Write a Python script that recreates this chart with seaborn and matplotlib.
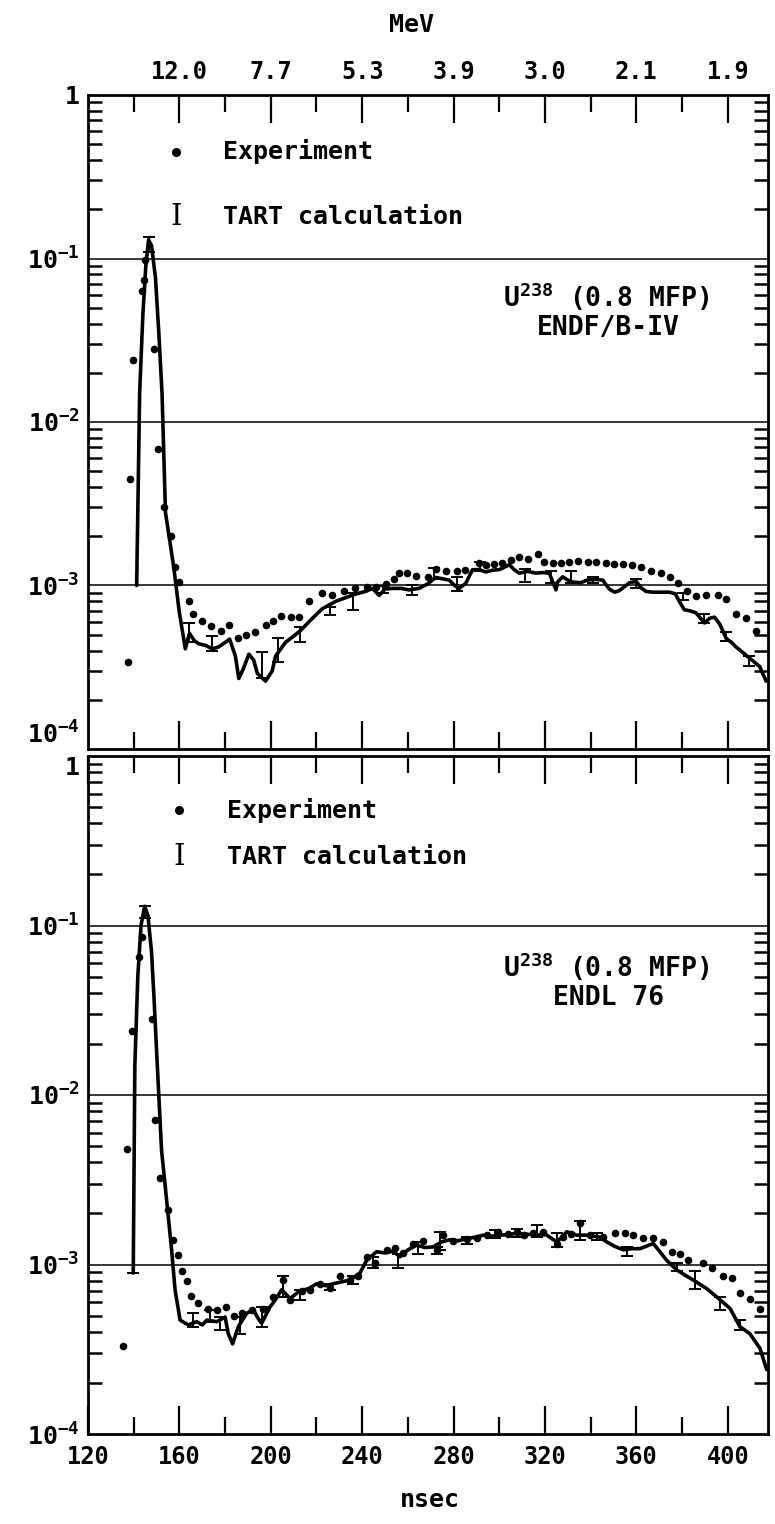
import numpy as np
import matplotlib
matplotlib.use("Agg")
import matplotlib.pyplot as plt
import matplotlib.ticker as mticker
import seaborn as sns

# ---- data (time in nsec, value per decade scale) ----
# upper panel: ENDF/B-IV
exp1_t = [137.5, 138.5, 139.7, 143.7, 144.4, 144.8, 148.8, 150.7, 153.2, 156.5, 158.0, 160.0,
          164.4, 166.0, 170.0, 173.9, 178.0, 181.9, 185.6, 189.2, 193.3, 197.7, 201.0, 204.6,
          208.7, 212.3, 216.7, 222.5, 227.0, 232.0, 237.0, 242.3, 246.0, 250.3, 254.0, 256.1,
          259.6, 263.5, 268.6, 272.2, 276.6, 281.4, 285.0, 291.2, 294.1, 297.8, 301.0, 305.0,
          308.7, 312.5, 316.8, 319.7, 323.3, 327.0, 330.6, 334.3, 338.7, 342.3, 346.7, 350.4,
          354.0, 358.1, 362.0, 366.4, 370.8, 374.5, 378.1, 382.2, 385.9, 390.5, 395.6, 399.3,
          403.4, 408.0, 412.2]
exp1_v = [3.4e-4, 4.5e-3, 2.4e-2, 6.3e-2, 7.4e-2, 9.8e-2, 2.8e-2, 6.8e-3, 3.0e-3, 2.0e-3, 1.3e-3, 1.05e-3,
          8.0e-4, 6.7e-4, 6.1e-4, 5.65e-4, 5.3e-4, 5.7e-4, 4.8e-4, 5.0e-4, 5.2e-4, 5.7e-4, 6.1e-4, 6.5e-4,
          6.4e-4, 6.4e-4, 8.0e-4, 9.0e-4, 8.8e-4, 9.2e-4, 9.6e-4, 9.75e-4, 9.8e-4, 1.02e-3, 1.09e-3, 1.19e-3,
          1.19e-3, 1.15e-3, 1.13e-3, 1.26e-3, 1.23e-3, 1.23e-3, 1.25e-3, 1.38e-3, 1.33e-3, 1.35e-3, 1.37e-3, 1.43e-3,
          1.50e-3, 1.45e-3, 1.56e-3, 1.40e-3, 1.37e-3, 1.38e-3, 1.39e-3, 1.41e-3, 1.40e-3, 1.40e-3, 1.38e-3, 1.35e-3,
          1.35e-3, 1.33e-3, 1.29e-3, 1.23e-3, 1.20e-3, 1.13e-3, 1.04e-3, 9.3e-4, 8.6e-4, 8.7e-4, 8.7e-4, 8.3e-4,
          6.7e-4, 6.3e-4, 5.3e-4]

calc1_t = [141.3, 142.6, 144.0, 145.3, 146.5, 147.8, 149.5, 151.0, 152.4, 153.9, 157.5, 160.0, 162.6,
           164.4, 166.5, 168.5, 171.5, 174.3, 177.0, 180.2, 182.0, 184.5, 186.0, 188.0, 190.4, 192.5,
           194.1, 197.7, 200.6, 202.1, 206.5, 210.0, 213.0, 218.2, 222.5, 228.4, 233.5, 237.5, 241.5,
           244.5, 247.4, 250.0, 253.2, 257.0, 260.5, 264.9, 268.5, 272.2, 275.0, 278.0, 280.5, 282.4,
           285.3, 288.3, 291.2, 294.1, 297.0, 300.0, 304.4, 306.5, 308.7, 312.5, 316.0, 319.0, 321.9,
           324.8, 325.5, 327.7, 330.0, 332.0, 335.7, 338.5, 341.6, 345.2, 348.2, 350.5, 352.5, 357.0,
           359.9, 362.0, 364.2, 367.0, 370.0, 374.5, 377.0, 378.8, 381.0, 383.5, 386.1, 389.8, 392.0,
           394.2, 396.5, 399.3, 401.5, 403.7, 406.5, 409.5, 413.9, 416.8]
calc1_v = [1.0e-3, 1.5e-2, 4.5e-2, 9.0e-2, 1.3e-1, 1.2e-1, 7.7e-2, 3.5e-2, 1.5e-2, 2.8e-3, 1.3e-3, 6.8e-4, 4.1e-4,
           5.1e-4, 4.6e-4, 4.4e-4, 4.3e-4, 4.1e-4, 4.2e-4, 4.5e-4, 4.7e-4, 3.7e-4, 2.7e-4, 3.1e-4, 3.8e-4, 3.5e-4,
           2.9e-4, 2.6e-4, 3.0e-4, 3.7e-4, 4.5e-4, 4.9e-4, 5.3e-4, 6.3e-4, 7.2e-4, 8.0e-4, 8.5e-4, 8.9e-4, 9.2e-4,
           9.6e-4, 8.7e-4, 9.5e-4, 9.6e-4, 9.6e-4, 9.4e-4, 9.6e-4, 1.02e-3, 1.12e-3, 1.10e-3, 1.08e-3, 1.0e-3, 9.6e-4,
           1.03e-3, 1.25e-3, 1.25e-3, 1.21e-3, 1.24e-3, 1.25e-3, 1.34e-3, 1.25e-3, 1.19e-3, 1.22e-3, 1.19e-3, 1.20e-3, 1.19e-3,
           9.4e-4, 1.05e-3, 1.13e-3, 1.08e-3, 1.05e-3, 1.04e-3, 1.08e-3, 1.09e-3, 1.08e-3, 9.5e-4, 9.1e-4, 9.3e-4, 1.04e-3,
           1.06e-3, 9.7e-4, 9.2e-4, 9.1e-4, 9.1e-4, 9.1e-4, 8.9e-4, 8.0e-4, 7.1e-4, 7.0e-4, 6.8e-4, 5.9e-4, 6.3e-4,
           6.4e-4, 5.8e-4, 4.75e-4, 4.5e-4, 4.2e-4, 3.9e-4, 3.6e-4, 3.2e-4, 2.6e-4]

err1_t = [146.5, 164.4, 174.3, 196.0, 203.0, 213.0, 226.0, 236.0, 249.0, 262.0, 271.5, 281.7,
          291.6, 311.4, 322.6, 331.3, 340.9, 359.8, 380.3, 389.8, 399.3, 409.5]
err1_lo = [1.1e-1, 4.5e-4, 4.0e-4, 2.7e-4, 3.4e-4, 4.5e-4, 6.6e-4, 7.1e-4, 9.0e-4, 8.8e-4, 1.09e-3, 9.2e-4,
           1.22e-3, 1.05e-3, 1.03e-3, 1.03e-3, 1.03e-3, 9.6e-4, 8.2e-4, 5.9e-4, 4.6e-4, 3.2e-4]
err1_hi = [1.35e-1, 5.9e-4, 4.9e-4, 3.9e-4, 4.75e-4, 5.6e-4, 7.4e-4, 9.0e-4, 9.9e-4, 1.0e-3, 1.28e-3, 1.13e-3,
           1.39e-3, 1.27e-3, 1.22e-3, 1.22e-3, 1.13e-3, 1.1e-3, 9.0e-4, 6.7e-4, 5.2e-4, 3.7e-4]

# lower panel: ENDL 76
exp2_t = [135.5, 136.9, 139.2, 142.5, 143.8, 148.0, 149.3, 151.5, 155.1, 157.1, 159.5, 161.0,
          163.2, 164.9, 168.3, 172.4, 176.3, 180.4, 184.0, 187.3, 191.7, 196.7, 201.1, 205.5,
          208.4, 213.5, 217.2, 221.5, 225.9, 230.3, 234.7, 238.3, 242.0, 245.6, 250.7, 254.4,
          258.0, 262.4, 266.8, 272.6, 275.5, 279.9, 285.7, 290.1, 294.5, 299.6, 304.0, 307.6,
          311.0, 314.9, 319.3, 325.1, 328.0, 331.5, 335.3, 339.7, 345.5, 350.6, 355.0, 358.6,
          363.0, 367.4, 371.8, 375.4, 379.1, 382.7, 389.3, 392.9, 397.8, 401.7, 405.3, 409.7, 414.1]
exp2_v = [3.3e-4, 4.8e-3, 2.4e-2, 6.5e-2, 8.5e-2, 2.8e-2, 7.1e-3, 3.25e-3, 2.1e-3, 1.4e-3, 1.14e-3, 9.2e-4,
          8.0e-4, 6.5e-4, 5.9e-4, 5.5e-4, 5.4e-4, 5.6e-4, 5.0e-4, 5.2e-4, 5.4e-4, 5.5e-4, 6.45e-4, 8.1e-4,
          6.2e-4, 7.0e-4, 7.1e-4, 7.7e-4, 7.3e-4, 8.5e-4, 8.1e-4, 8.5e-4, 1.11e-3, 1.02e-3, 1.22e-3, 1.25e-3,
          1.17e-3, 1.33e-3, 1.38e-3, 1.22e-3, 1.5e-3, 1.38e-3, 1.41e-3, 1.44e-3, 1.5e-3, 1.56e-3, 1.52e-3, 1.56e-3,
          1.50e-3, 1.53e-3, 1.56e-3, 1.33e-3, 1.45e-3, 1.52e-3, 1.75e-3, 1.49e-3, 1.45e-3, 1.53e-3, 1.53e-3, 1.49e-3,
          1.43e-3, 1.43e-3, 1.36e-3, 1.19e-3, 1.16e-3, 1.06e-3, 1.02e-3, 9.5e-4, 8.5e-4, 8.3e-4, 6.8e-4, 6.3e-4, 5.5e-4]

calc2_t = [139.8, 140.5, 141.8, 143.2, 144.8, 146.2, 147.8, 149.0, 150.0, 152.2, 154.4, 156.6, 158.1,
           160.3, 163.9, 167.6, 170.0, 172.0, 176.4, 180.0, 181.4, 183.3, 185.8, 189.4, 192.4, 194.5,
           196.0, 199.6, 202.0, 204.8, 208.4, 212.8, 216.5, 220.1, 224.0, 227.4, 231.0, 234.7, 239.0,
           242.0, 246.3, 250.0, 253.6, 256.5, 260.0, 263.8, 267.5, 271.1, 274.8, 278.4, 282.0, 285.7,
           289.5, 293.0, 296.5, 300.3, 304.0, 307.6, 312.0, 316.3, 320.5, 323.0, 325.1, 327.5, 329.5,
           333.9, 338.3, 344.1, 347.0, 350.5, 354.3, 358.0, 361.6, 367.4, 370.5, 373.2, 377.6, 381.0,
           384.9, 390.8, 396.6, 401.0, 405.3, 409.7, 414.1, 417.0]
calc2_v = [8.9e-4, 1.5e-2, 5.0e-2, 1.0e-1, 1.3e-1, 1.15e-1, 7.0e-2, 3.5e-2, 1.84e-2, 4.7e-3, 2.4e-3, 1.22e-3, 7.1e-4,
           4.7e-4, 4.4e-4, 4.6e-4, 4.4e-4, 4.7e-4, 4.6e-4, 4.9e-4, 3.9e-4, 3.4e-4, 4.3e-4, 5.15e-4, 5.4e-4, 4.8e-4,
           4.5e-4, 5.6e-4, 6.2e-4, 7.1e-4, 6.3e-4, 7.0e-4, 7.2e-4, 7.7e-4, 7.5e-4, 7.7e-4, 7.9e-4, 8.1e-4, 8.9e-4,
           1.06e-3, 1.19e-3, 1.17e-3, 1.2e-3, 1.11e-3, 1.22e-3, 1.30e-3, 1.26e-3, 1.27e-3, 1.36e-3, 1.40e-3, 1.38e-3, 1.42e-3,
           1.45e-3, 1.49e-3, 1.47e-3, 1.49e-3, 1.50e-3, 1.53e-3, 1.51e-3, 1.49e-3, 1.50e-3, 1.42e-3, 1.36e-3, 1.45e-3, 1.56e-3,
           1.49e-3, 1.49e-3, 1.45e-3, 1.36e-3, 1.28e-3, 1.22e-3, 1.24e-3, 1.24e-3, 1.33e-3, 1.18e-3, 1.06e-3, 9.3e-4, 8.7e-4,
           8.1e-4, 7.2e-4, 6.2e-4, 5.5e-4, 4.3e-4, 3.9e-4, 3.2e-4, 2.4e-4]

err2_t = [139.8, 144.8, 166.1, 173.4, 177.8, 186.5, 196.0, 205.5, 212.8, 225.9, 236.1, 244.9, 255.8,
          264.6, 272.6, 274.0, 285.7, 298.1, 307.6, 316.4, 325.1, 335.3, 342.6, 355.7, 377.6, 385.6,
          396.6, 405.3]
err2_lo = [8.9e-4, 1.1e-1, 4.3e-4, 4.6e-4, 4.1e-4, 3.9e-4, 4.3e-4, 6.45e-4, 6.2e-4, 7.1e-4, 7.7e-4, 9.6e-4, 9.6e-4,
           1.16e-3, 1.16e-3, 1.22e-3, 1.33e-3, 1.43e-3, 1.46e-3, 1.46e-3, 1.27e-3, 1.40e-3, 1.40e-3, 1.13e-3, 9.1e-4, 7.2e-4,
           5.4e-4, 4.1e-4]
err2_hi = [8.9e-4, 1.3e-1, 5.15e-4, 5.4e-4, 4.9e-4, 4.9e-4, 5.6e-4, 8.5e-4, 7.1e-4, 7.7e-4, 8.5e-4, 1.11e-3, 1.16e-3,
           1.36e-3, 1.27e-3, 1.56e-3, 1.46e-3, 1.6e-3, 1.63e-3, 1.71e-3, 1.53e-3, 1.80e-3, 1.53e-3, 1.27e-3, 1.02e-3, 9.1e-4,
           6.45e-4, 4.7e-4]

nsec_ticks = [120, 160, 200, 240, 280, 320, 360, 400]
minor_ticks = [140, 180, 220, 260, 300, 340, 380]
mev_ticks = [160, 200, 240, 280, 320, 360, 400]
mev_labels = ["12.0", "7.7", "5.3", "3.9", "3.0", "2.1", "1.9"]
decades = [1e-4, 1e-3, 1e-2, 1e-1, 1]
decade_labels = [r"$10^{-4}$", r"$10^{-3}$", r"$10^{-2}$", r"$10^{-1}$", "1"]

sns.set_theme(style="white")
plt.rcParams["font.family"] = ["DejaVu Sans Mono", "DejaVu Sans"]
plt.rcParams["font.weight"] = "bold"
plt.rcParams["text.color"] = "black"
plt.rcParams["xtick.color"] = "black"
plt.rcParams["ytick.color"] = "black"
plt.rcParams["axes.labelcolor"] = "black"
plt.rcParams["mathtext.fontset"] = "custom"
for k in ["rm", "it", "bf", "sf", "tt"]:
    plt.rcParams["mathtext." + k] = "DejaVu Sans Mono:bold"

fig = plt.figure(figsize=(7.75, 15.24), dpi=100)
ax1 = fig.add_axes([88 / 775, 1 - 749 / 1524, 680 / 775, 654 / 1524])
ax2 = fig.add_axes([88 / 775, 1 - 1434 / 1524, 680 / 775, 678 / 1524])


def draw_panel(ax, exp_t, exp_v, calc_t, calc_v, err_t, err_lo, err_hi):
    ax.set_yscale("log")
    for d in [1e-3, 1e-2, 1e-1]:
        ax.axhline(d, color="black", lw=1.1, zorder=1)
    sns.lineplot(x=calc_t, y=calc_v, ax=ax, color="black", lw=2.6,
                 sort=False, estimator=None, zorder=3)
    lo = np.array(err_lo)
    hi = np.array(err_hi)
    ax.errorbar(err_t, lo, yerr=[np.zeros_like(lo), hi - lo], fmt="none",
                ecolor="black", elinewidth=1.4, capsize=4, capthick=1.4, zorder=3)
    sns.scatterplot(x=exp_t, y=exp_v, ax=ax, color="black", s=30,
                    linewidth=0, zorder=4)
    ax.set_xlim(120, 417.6)
    ax.set_ylim(1e-4, 1)
    ax.set_yticks(decades)
    ax.set_yticklabels(decade_labels)
    ax.yaxis.set_minor_locator(mticker.LogLocator(base=10, subs=np.arange(2, 10)))
    ax.yaxis.set_minor_formatter(mticker.NullFormatter())
    ax.tick_params(axis="y", which="major", length=0, pad=6, labelsize=18)
    ax.tick_params(axis="y", which="minor", direction="in", left=True, right=True,
                   length=10, width=1.8, color="black")
    ax.set_xticks(minor_ticks, minor=True)
    ax.tick_params(axis="x", which="both", direction="in", top=True, bottom=True,
                   width=1.6, color="black", labelsize=17, pad=8)
    ax.tick_params(axis="x", which="major", length=20)
    ax.tick_params(axis="x", which="minor", length=12)
    for s in ax.spines.values():
        s.set_linewidth(2.0)
        s.set_color("black")
    ax.set_xlabel("")
    ax.set_ylabel("")


draw_panel(ax1, exp1_t, exp1_v, calc1_t, calc1_v, err1_t, err1_lo, err1_hi)
draw_panel(ax2, exp2_t, exp2_v, calc2_t, calc2_v, err2_t, err2_lo, err2_hi)

# keep the two labels at the panel joint apart
ax1.get_yticklabels()[0].set_va("bottom")
ax2.get_yticklabels()[-1].set_va("top")

ax1.set_xticks(mev_ticks)
ax1.set_xticklabels(mev_labels)
ax1.tick_params(axis="x", labeltop=True, labelbottom=False)
ax2.set_xticks(nsec_ticks)
ax2.set_xticklabels([str(t) for t in nsec_ticks])
ax2.tick_params(axis="x", labeltop=False, labelbottom=True)

ax1.text(0.476, 1.107, "MeV", transform=ax1.transAxes, ha="center", va="center", fontsize=18)
ax2.text(0.503, -0.097, "nsec", transform=ax2.transAxes, ha="center", va="center", fontsize=18)

# legends and labels inside the panels
for ax, ye, yt, xd, xt, name in [(ax1, 0.913, 0.813, 0.129, 0.199, "ENDF/B-IV"),
                                 (ax2, 0.920, 0.851, 0.134, 0.204, "ENDL 76")]:
    ax.plot([xd], [ye], "o", color="black", ms=5.5, transform=ax.transAxes)
    ax.text(xt, ye, "Experiment", transform=ax.transAxes, ha="left", va="center", fontsize=18)
    ax.text(xd, yt, "I", transform=ax.transAxes, ha="center", va="center", fontsize=21,
            family="DejaVu Serif", fontweight="normal")
    ax.text(xt, yt, "TART calculation", transform=ax.transAxes, ha="left", va="center", fontsize=18)
    ax.text(0.762, 0.691 if ax is ax1 else 0.689, r"U$^{238}$ (0.8 MFP)", transform=ax.transAxes,
            ha="center", va="center", fontsize=19)
    ax.text(0.765, 0.644 if ax is ax1 else 0.643, name, transform=ax.transAxes,
            ha="center", va="center", fontsize=19)

fig.savefig("out.png", dpi=100)
